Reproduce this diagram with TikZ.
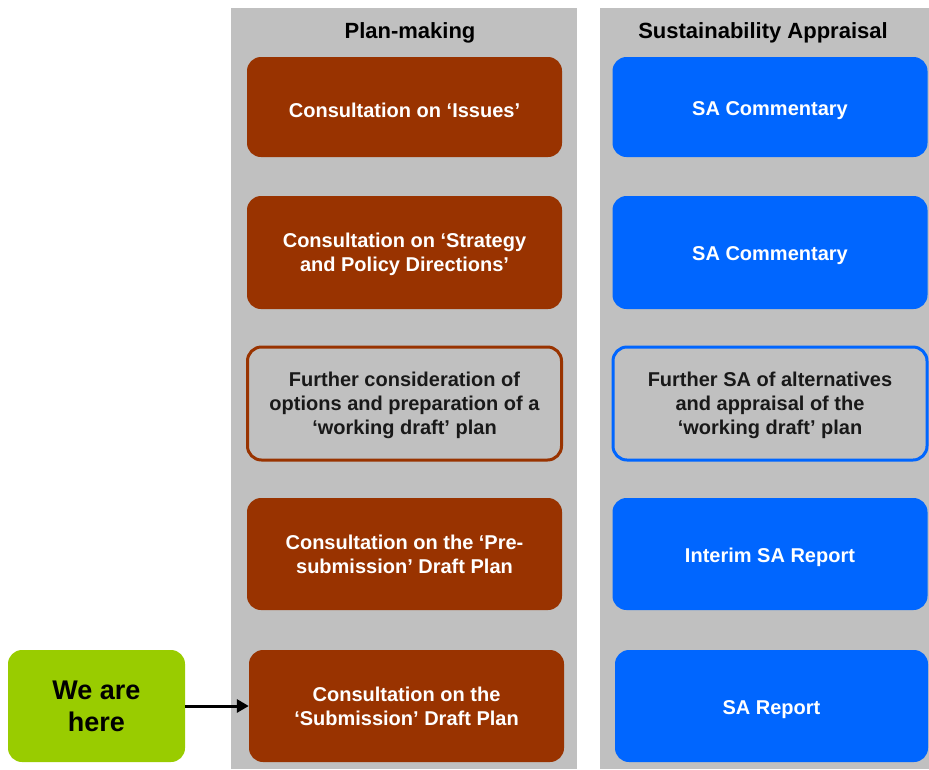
\documentclass[tikz,border=0pt]{standalone}
\usepackage{fontspec}
\setmainfont{Liberation Sans}
\usetikzlibrary{positioning,arrows.meta}

\definecolor{planbrown}{RGB}{153,51,0}
\definecolor{sablue}{RGB}{0,102,255}
\definecolor{herelime}{RGB}{153,204,0}
\definecolor{colgray}{RGB}{192,192,192}

\begin{document}
\begin{tikzpicture}[x=1pt,y=-1pt,node distance=365.5pt,on grid,
    box/.style={rounded corners=14pt,minimum height=112pt,inner sep=0pt,align=center},
    % the strut pushes the text a little below the middle
    stage/.style={box,minimum width=315pt,text=white,
      font=\bfseries\fontsize{20}{24}\selectfont,
      execute at begin node={\rule{0pt}{21pt}}},
    lines/.style={text depth=-3pt},
    plan/.style={stage,fill=planbrown},
    sa/.style={stage,fill=sablue},
    planopen/.style={stage,lines,draw=planbrown,line width=3pt,text=black!90},
    saopen/.style={stage,lines,draw=sablue,line width=3pt,text=black!90},
    heading/.style={font=\bfseries\fontsize{22}{24}\selectfont}]
    \useasboundingbox (0,0) rectangle (929,769);

    % the two columns
    \fill[colgray] (231,8) rectangle (577,769);
    \fill[colgray] (600,8) rectangle (929,769);

    \node[heading] (hplan) at (410,33) {Plan-making};
    \node[heading] (hsa)   at (763,33) {Sustainability Appraisal};

    % plan-making stages
    \node[plan,minimum height=100pt,text depth=0pt] (p1) at (404.5,107) {Consultation on ‘Issues’};
    \node[plan,lines,minimum height=113pt] (p2) at (404.5,252.5) {Consultation on ‘Strategy\\and Policy Directions’};
    \node[planopen,minimum height=113pt,minimum width=314pt] (p3) at (404.5,403.5)
        {Further consideration of\\options and preparation of a\\‘working draft’ plan};
    \node[plan,lines] (p4) at (404.5,554) {Consultation on the ‘Pre-\\submission’ Draft Plan};
    \node[plan,lines] (p5) at (406.5,706) {Consultation on the\\‘Submission’ Draft Plan};

    % appraisal stages
    \node[sa,minimum height=100pt] (s1) [right=of p1] {SA Commentary};
    \node[sa,minimum height=113pt] (s2) [right=of p2] {SA Commentary};
    \node[saopen,minimum height=113pt,minimum width=314pt] (s3) [right=of p3]
        {Further SA of alternatives\\and appraisal of the\\‘working draft’ plan};
    \node[sa] (s4) [right=of p4] {Interim SA Report};
    \node[sa,minimum width=313pt] (s5) [right=365pt of p5] {SA Report};

    \node[box,fill=herelime,minimum width=177pt,
      font=\bfseries\fontsize{27}{32}\selectfont] (here) at (96.5,706) {We are\\here};

    \draw[line width=3pt,-{Triangle[length=12pt,width=13pt]}] (here) -- (p5);
\end{tikzpicture}
\end{document}
